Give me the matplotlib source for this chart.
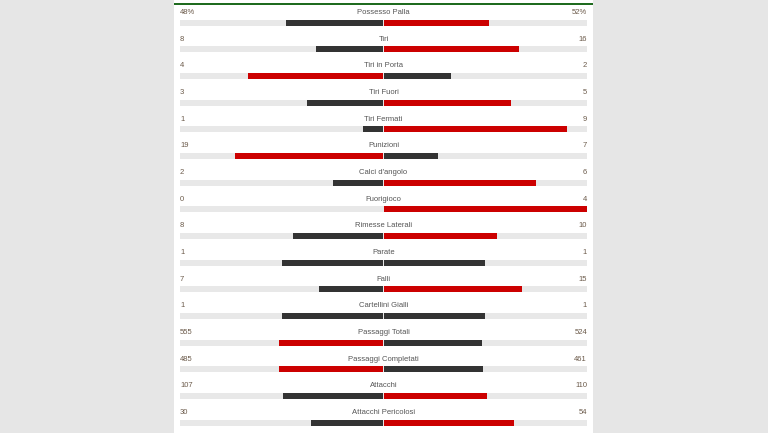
import matplotlib
matplotlib.use("Agg")
import matplotlib.pyplot as plt
from matplotlib.patches import Rectangle

categories = ["Possesso Palla", "Tiri", "Tiri in Porta", "Tiri Fuori", "Tiri Fermati",
              "Punizioni", "Calci d'angolo", "Fuorigioco", "Rimesse Laterali", "Parate",
              "Falli", "Cartellini Gialli", "Passaggi Totali", "Passaggi Completati",
              "Attacchi", "Attacchi Pericolosi"]
home = [48, 8, 4, 3, 1, 19, 2, 0, 8, 1, 7, 1, 555, 485, 107, 30]
away = [52, 16, 2, 5, 9, 7, 6, 4, 10, 1, 15, 1, 524, 461, 110, 54]
home_labels = ["48%", "8", "4", "3", "1", "19", "2", "0", "8", "1", "7", "1", "555", "485", "107", "30"]
away_labels = ["52%", "16", "2", "5", "9", "7", "6", "4", "10", "1", "15", "1", "524", "461", "110", "54"]

W, H = 768, 433
fig = plt.figure(figsize=(W / 100, H / 100), dpi=100, facecolor="#e6e6e6")
plt.rcParams['font.family'] = ['Liberation Sans', 'DejaVu Sans']

# white panel + green top line
fig.patches.append(Rectangle((174 / W, 0), (593 - 174) / W, 1, transform=fig.transFigure,
                             facecolor="white", edgecolor="none", zorder=-2))
fig.patches.append(Rectangle((174 / W, 1 - 5 / H), (593 - 174) / W, 2.5 / H, transform=fig.transFigure,
                             facecolor="#1f6b1f", edgecolor="none", zorder=-1))

ax = fig.add_axes([180 / W, 0, 407 / W, 1])
ax.set_zorder(1)
ax.set_facecolor("none")
ax.set_xlim(-1, 1)
row_px = 26.67
top_r = -22.5 / row_px
bot_r = (H - 22.5) / row_px
ax.set_ylim(bot_r, top_r)
ax.axis("off")

RED = "#cc0000"
DARK = "#333333"
TRACK = "#e8e8e8"
bh = 6 / row_px
gap = 0.004

for i, (cat, h, a) in enumerate(zip(categories, home, away)):
    tot = h + a
    fh = h / tot if tot else 0
    fa = a / tot if tot else 0
    if h > a:
        ch, ca = RED, DARK
    elif a > h:
        ch, ca = DARK, RED
    else:
        ch, ca = DARK, DARK
    ax.barh(i, 2, left=-1, height=bh, color=TRACK, zorder=1)
    if fh > 0:
        ax.barh(i, -(fh - gap), left=-gap, height=bh, color=ch, zorder=2)
    if fa > 0:
        ax.barh(i, fa - gap, left=gap, height=bh, color=ca, zorder=2)
    ty = i - 10 / row_px
    ax.text(-1, ty, home_labels[i], ha="left", va="center", fontsize=5.5, color="#6b5a4a")
    ax.text(1, ty, away_labels[i], ha="right", va="center", fontsize=5.5, color="#6b5a4a")
    ax.text(0, ty, cat, ha="center", va="center", fontsize=5.5, color="#555555")

fig.savefig("out.png", dpi=100, facecolor=fig.get_facecolor())
